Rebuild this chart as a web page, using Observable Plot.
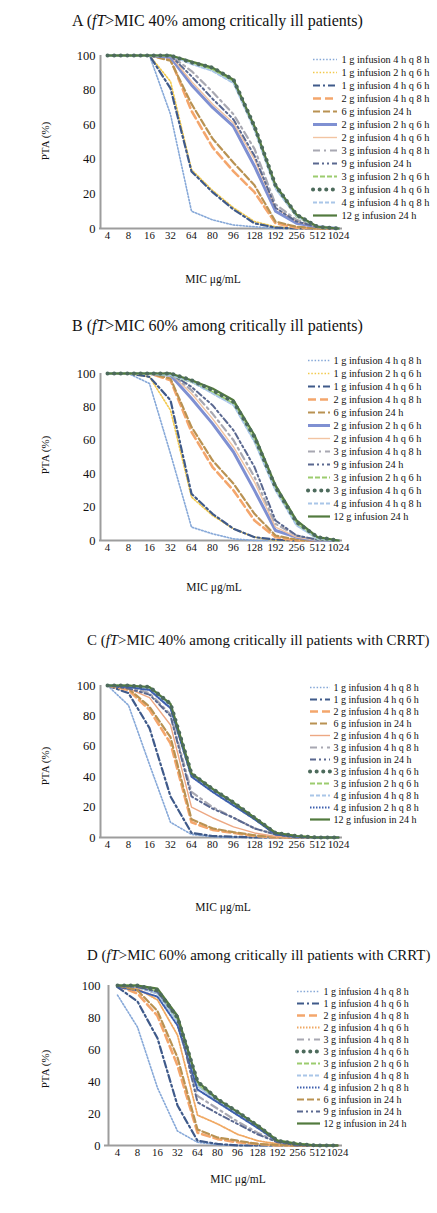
<!DOCTYPE html>
<html>
<head>
<meta charset="utf-8">
<script src="https://cdn.jsdelivr.net/npm/d3@7"></script>
<script src="https://cdn.jsdelivr.net/npm/@observablehq/plot@0.6"></script>
<style>
  html, body { margin: 0; padding: 0; background: #fff; }
  #root { position: relative; width: 437px; height: 1213px; overflow: hidden; font-family: 'Liberation Serif', 'Times New Roman', serif; color: #111; }
  .abs { position: absolute; white-space: nowrap; }
</style>
</head>
<body>
<div id="root"></div>
<script>
// ---------------- DATA ----------------
const mic = ["4", "8", "16", "32", "64", "80", "96", "128", "192", "256", "512", "1024"];

const titles = [
  ["A", "40%", ""],
  ["B", "60%", ""],
  ["C", "40%", " with CRRT"],
  ["D", "60%", " with CRRT"]
];

// Panel A / B regimens (legend order)
const keysAB = ["1g4q8", "1g2q6", "1g4q6", "2g4q8", "6g24", "2g2q6", "2g4q6", "3g4q8", "9g24", "3g2q6", "3g4q6", "4g4q8", "12g24"];
const labelsAB = ["1 g infusion 4 h q 8 h", "1 g infusion 2 h q 6 h", "1 g infusion 4 h q 6 h", "2 g infusion 4 h q 8 h",
  "6 g infusion 24 h", "2 g infusion 2 h q 6 h", "2 g infusion 4 h q 6 h", "3 g infusion 4 h q 8 h", "9 g infusion 24 h",
  "3 g infusion 2 h q 6 h", "3 g infusion 4 h q 6 h", "4 g infusion 4 h q 8 h", "12 g infusion 24 h"];

const ptaA = [
  [100, 100, 100, 66, 10, 5, 2, 1, 0, 0, 0, 0],
  [100, 100, 100, 85, 34, 22, 12, 4, 1, 0, 0, 0],
  [100, 100, 100, 81, 33, 21, 11, 3, 0.5, 0, 0, 0],
  [100, 100, 100, 98, 68, 47, 33, 21, 3, 0.5, 0, 0],
  [100, 100, 100, 97, 72, 52, 38, 25, 4, 1, 0, 0],
  [100, 100, 100, 99, 83, 70, 59, 36, 10, 3, 1, 0],
  [100, 100, 100, 100, 85, 72, 61, 40, 12, 4, 1, 0],
  [100, 100, 100, 100, 91, 79, 66, 46, 14, 5, 1, 0],
  [100, 100, 100, 100, 88, 75, 63, 42, 12, 4, 1, 0],
  [100, 100, 100, 100, 96, 92, 85, 58, 24, 7, 1, 0],
  [100, 100, 100, 100, 96, 93, 86, 59, 25, 8, 1, 0],
  [100, 100, 100, 100, 95, 91, 84, 57, 23, 7, 1, 0],
  [100, 100, 100, 100, 96.5, 93, 86, 59, 25, 8, 1, 0]
];

const ptaB = [
  [100, 100, 94, 52, 8, 4, 1, 0, 0, 0, 0, 0],
  [100, 100, 98, 78, 26, 15, 7, 2, 0, 0, 0, 0],
  [100, 100, 98, 84, 28, 16, 7, 2, 0.5, 0, 0, 0],
  [100, 100, 100, 96, 65, 44, 30, 12, 2, 0, 0, 0],
  [100, 100, 100, 97, 68, 48, 34, 16, 3, 0.5, 0, 0],
  [100, 100, 100, 99, 85, 70, 53, 30, 6, 2, 0, 0],
  [100, 100, 100, 100, 88, 73, 56, 35, 8, 2, 0, 0],
  [100, 100, 100, 100, 90, 76, 60, 38, 10, 3, 0, 0],
  [100, 100, 100, 100, 92, 81, 66, 44, 12, 3, 0.5, 0],
  [100, 100, 100, 99, 95, 89, 82, 60, 31, 10, 1, 0],
  [100, 100, 100, 100, 96, 90, 83, 62, 32, 11, 2, 0],
  [100, 100, 100, 99, 95, 88, 81, 59, 30, 9, 1, 0],
  [100, 100, 100, 100, 96, 91, 84, 63, 33, 12, 2, 0]
];

// Panel C regimens (legend order)
const keysC = ["1g4q8", "1g4q6", "2g4q8", "6g24", "2g4q6c", "3g4q8", "9g24", "3g4q6", "3g2q6", "4g4q8", "4g2q8", "12g24"];
const labelsC = ["1 g infusion 4 h q 8 h", "1 g infusion 4 h q 6 h", "2 g infusion 4 h q 8 h", "6 g infusion in 24 h",
  "2 g infusion 4 h q 6 h", "3 g infusion 4 h q 8 h", "9 g infusion in 24 h", "3 g infusion 4 h q 6 h",
  "3 g infusion 2 h q 6 h", "4 g infusion 4 h q 8 h", "4 g infusion 2 h q 8 h", "12 g infusion in 24 h"];

const ptaC = [
  [100, 87, 48, 10, 2, 0.5, 0, 0, 0, 0, 0, 0],
  [100, 95, 72, 27, 3, 1, 0.5, 0, 0, 0, 0, 0],
  [100, 97, 84, 62, 10, 5, 3, 1, 0, 0, 0, 0],
  [100, 98, 86, 66, 12, 6, 3.5, 1.5, 0.3, 0, 0, 0],
  [100, 98, 92, 74, 20, 13, 7, 3, 0.7, 0, 0, 0],
  [100, 99, 95, 81, 30, 20, 13, 6, 2, 0, 0, 0],
  [100, 98, 94, 80, 27, 19, 13, 6, 2, 0, 0, 0],
  [100, 100, 99, 88, 42, 32, 23, 13, 3, 1, 0, 0],
  [100, 100, 98, 87, 42, 32, 22, 13, 3, 1, 0, 0],
  [100, 100, 98, 86, 41, 31, 22, 12, 2.5, 0.5, 0, 0],
  [100, 99, 97, 85, 40, 30, 21, 12, 2, 0.5, 0, 0],
  [100, 100, 99, 88, 42, 32, 23, 13, 3, 1, 0, 0]
];

// Panel D regimens (legend order)
const keysD = ["1g4q8", "1g4q6", "2g4q8", "2g4q6d", "3g4q8", "3g4q6", "3g2q6", "4g4q8", "4g2q8", "6g24", "9g24", "12g24"];
const labelsD = ["1 g infusion 4 h q 8 h", "1 g infusion 4 h q 6 h", "2 g infusion 4 h q 8 h", "2 g infusion 4 h q 6 h",
  "3 g infusion 4 h q 8 h", "3 g infusion 4 h q 6 h", "3 g infusion 2 h q 6 h", "4 g infusion 4 h q 8 h",
  "4 g infusion 2 h q 8 h", "6 g infusion in 24 h", "9 g infusion in 24 h", "12 g infusion in 24 h"];

const ptaD = [
  [94, 74, 36, 9, 2, 0.5, 0, 0, 0, 0, 0, 0],
  [99, 90, 67, 25, 3, 1, 0, 0, 0, 0, 0, 0],
  [100, 95, 81, 50, 8, 4, 2, 1, 0, 0, 0, 0],
  [100, 98, 91, 69, 19, 13.5, 7, 3, 1, 0, 0, 0],
  [100, 99, 95, 81, 31, 23, 15, 8, 2.5, 0.5, 0, 0],
  [100, 100, 97, 80, 40, 29, 21, 12.5, 3, 1, 0, 0],
  [100, 100, 96, 78, 38, 28, 20, 12, 3, 1, 0, 0],
  [100, 99, 95, 77, 37, 28, 20, 12, 3, 0.5, 0, 0],
  [99, 97, 93, 75, 35, 27, 19, 11, 2.5, 0.5, 0, 0],
  [100, 97, 84, 55, 10, 5, 3, 1, 0.3, 0, 0, 0],
  [100, 99, 96, 80, 27, 20, 13.5, 7, 2, 0, 0, 0],
  [100, 100, 98, 81, 40, 29, 21, 12.5, 3, 1, 0, 0]
];

// ---------------- STYLES ----------------
const styles = {
  "1g4q8": {stroke: "#86a8d8", strokeWidth: 1.6, strokeDasharray: "1.5,1.8"},
  "1g2q6": {stroke: "#f2c94c", strokeWidth: 1.6, strokeDasharray: "1.5,1.8"},
  "1g4q6": {stroke: "#3f5a8a", strokeWidth: 2.2, strokeDasharray: "7,3,2,3"},
  "2g4q8": {stroke: "#f4a66c", strokeWidth: 2.6, strokeDasharray: "8,4"},
  "6g24":  {stroke: "#b99252", strokeWidth: 2.2, strokeDasharray: "7,3"},
  "2g2q6": {stroke: "#7f90d2", strokeWidth: 3},
  "2g4q6": {stroke: "#f2c4a2", strokeWidth: 1.4},
  "2g4q6c": {stroke: "#eda883", strokeWidth: 1.4},
  "2g4q6d": {stroke: "#f0a862", strokeWidth: 1.8, strokeDasharray: "1.5,1.5"},
  "3g4q8": {stroke: "#a8a8b2", strokeWidth: 2.2, strokeDasharray: "7,4,2,4"},
  "9g24":  {stroke: "#5a6890", strokeWidth: 2, strokeDasharray: "6,3,2,3,2,3"},
  "3g2q6": {stroke: "#9ccc6e", strokeWidth: 2.2, strokeDasharray: "5,2"},
  "3g4q6": {stroke: "#4d6b5c", strokeWidth: 4, strokeDasharray: "0.1,6.5", strokeLinecap: "round"},
  "4g4q8": {stroke: "#a9c6e8", strokeWidth: 1.8, strokeDasharray: "4,2"},
  "12g24": {stroke: "#527a3e", strokeWidth: 2.2},
  "4g2q8": {stroke: "#3d5fae", strokeWidth: 2, strokeDasharray: "1.5,1.5"}
};

// ---------------- LAYOUT ----------------
const layouts = [
  {top: 40, height: 232, yZero: 228, yHundred: 55, axisX: 99, xFirst: 106, xLast: 338, marginRight: 95,
   title: {left: 72, base: 26, size: 16}, ylab: 141, xlab: {x: 213, y: 280},
   legend: {x0: 313, x1: 337, tx: 341, first: 55, last: 218, size: 10.3}},
  {top: 355, height: 210, yZero: 540, yHundred: 373, axisX: 99, xFirst: 106, xLast: 338, marginRight: 95,
   title: {left: 72, base: 331, size: 16}, ylab: 455, xlab: {x: 214, y: 588},
   legend: {x0: 308, x1: 330, tx: 333, first: 359, last: 517, size: 10.3}},
  {top: 670, height: 200, yZero: 837, yHundred: 685, axisX: 99, xFirst: 106, xLast: 338, marginRight: 95,
   title: {left: 87, base: 646, size: 14.9}, ylab: 766, xlab: {x: 223, y: 908},
   legend: {x0: 310, x1: 330, tx: 333, first: 682, last: 824, size: 10}},
  {top: 970, height: 200, yZero: 1145, yHundred: 985, axisX: 104, xFirst: 113, xLast: 340, marginRight: 95,
   title: {left: 87, base: 961, size: 14.9}, ylab: 1069, xlab: {x: 238, y: 1180},
   legend: {x0: 297, x1: 320, tx: 323, first: 987, last: 1127, size: 10}}
];

const panels = [
  {keys: keysAB, labels: labelsAB, values: ptaA},
  {keys: keysAB, labels: labelsAB, values: ptaB},
  {keys: keysC, labels: labelsC, values: ptaC},
  {keys: keysD, labels: labelsD, values: ptaD}
];

const root = document.getElementById("root");
const font = "'Liberation Serif', 'Times New Roman', serif";

function addDiv(html, css) {
  const d = document.createElement("div");
  d.className = "abs";
  d.innerHTML = html;
  Object.assign(d.style, css);
  root.appendChild(d);
  return d;
}

function drawOrder(keys) {
  const rest = keys.filter(k => k !== "12g24" && k !== "3g4q6");
  return rest.concat(keys.filter(k => k === "12g24"), keys.filter(k => k === "3g4q6"));
}

panels.forEach((p, pi) => {
  const L = layouts[pi];
  const t = titles[pi];
  // title
  addDiv(`${t[0]} (<i>fT</i>&gt;MIC ${t[1]} among critically ill patients${t[2]})`, {
    left: L.title.left + "px", top: (L.title.base - L.title.size * 0.84) + "px",
    fontSize: L.title.size + "px", lineHeight: L.title.size + "px"
  });
  // y label
  addDiv("PTA (%)", {
    left: "45px", top: L.ylab + "px", fontSize: "11px", lineHeight: "11px",
    transform: "translate(-50%, -50%) rotate(-90deg)"
  });
  // x label
  addDiv("MIC μg/mL", {
    left: L.xlab.x + "px", top: L.xlab.y + "px", fontSize: "11.5px", lineHeight: "11.5px",
    transform: "translate(-50%, -50%)"
  });

  // tidy rows
  const rows = [];
  p.values.forEach((vals, si) => vals.forEach((v, i) => rows.push({key: p.keys[si], mic: mic[i], v})));

  const marginTop = L.yHundred - L.top;
  const marginBottom = L.top + L.height - L.yZero;

  const marks = [
    Plot.ruleY([0], {stroke: "#9d9d9d", strokeWidth: 2}),
    Plot.ruleX([mic[0]], {dx: L.axisX - L.xFirst, stroke: "#9d9d9d", strokeWidth: 2}),
    ...drawOrder(p.keys).map(k => Plot.line(rows.filter(r => r.key === k), {x: "mic", y: "v", ...styles[k]}))
  ];

  const svg = Plot.plot({
    width: 437,
    height: L.height,
    marginLeft: L.axisX,
    marginRight: L.marginRight,
    marginTop,
    marginBottom,
    x: {type: "point", domain: mic, range: [L.xFirst, L.xLast], padding: 0, tickSize: 0, tickPadding: 3, label: null},
    y: {domain: [0, 100], range: [L.yZero - L.top, L.yHundred - L.top], ticks: 5, tickSize: 0, tickPadding: 4, label: null},
    style: {fontFamily: font, fontSize: "12px", color: "#111", background: "transparent", overflow: "visible"},
    marks
  });
  svg.style.position = "absolute";
  svg.style.left = "0px";
  svg.style.top = L.top + "px";
  d3.select(svg).selectAll('[aria-label^="x-axis"] text').style("font-size", "10.8px");
  d3.select(svg).selectAll('[aria-label^="y-axis"] text').style("font-size", "12.5px");
  root.appendChild(svg);

  // legend
  const G = L.legend;
  const lTop = G.first - 10;
  const lHeight = G.last - G.first + 20;
  const legendRows = p.keys.map((k, i) => ({key: k, label: p.labels[i]}));
  const lsvg = Plot.plot({
    width: 437,
    height: lHeight,
    margin: 0,
    x: {domain: [0, 1], range: [G.x0, G.x1]},
    y: {type: "point", domain: p.labels, range: [10, 10 + G.last - G.first], padding: 0},
    axis: null,
    style: {fontFamily: font, fontSize: G.size + "px", color: "#111", background: "transparent", overflow: "visible"},
    marks: [
      ...legendRows.map(r => Plot.ruleY([r], {y: "label", x1: 0, x2: 1, ...styles[r.key]})),
      Plot.text(legendRows, {x: 1, y: "label", text: "label", textAnchor: "start", dx: G.tx - G.x1, fill: "#111"})
    ]
  });
  lsvg.style.position = "absolute";
  lsvg.style.left = "0px";
  lsvg.style.top = lTop + "px";
  root.appendChild(lsvg);
});
</script>
</body>
</html>
